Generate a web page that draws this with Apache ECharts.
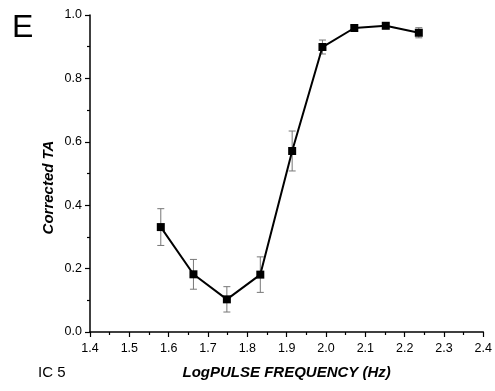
<!DOCTYPE html>
<html>
<head>
<meta charset="utf-8">
<script src="https://cdn.jsdelivr.net/npm/echarts@6/dist/echarts.min.js"></script>
<style>
html,body{margin:0;padding:0;background:#fff;}
#c{width:495px;height:391px;}
</style>
</head>
<body>
<div id="c"></div>
<script>
const logFreq = [1.580, 1.663, 1.748, 1.833, 1.914, 1.991, 2.072, 2.152, 2.236];
const correctedTA = [0.331, 0.182, 0.103, 0.181, 0.571, 0.899, 0.959, 0.966, 0.944];
const errTA = [0.058, 0.047, 0.040, 0.056, 0.063, 0.022, 0.008, 0.008, 0.016];

const points = logFreq.map((x, i) => [x, correctedTA[i]]);
const errData = logFreq.map((x, i) => [x, correctedTA[i] - errTA[i], correctedTA[i] + errTA[i]]);

const font = 'Liberation Sans, Arial, sans-serif';
const chart = echarts.init(document.getElementById('c'), null, {renderer: 'canvas'});
chart.setOption({
  animation: false,
  backgroundColor: '#fff',
  grid: {left: 90, right: 10, top: 15, bottom: 59, containLabel: false},
  graphic: [
    {type: 'text', x: 12, y: 12, style: {text: 'E', font: '32px ' + font, fill: '#000'}},
    {type: 'text', x: 38, y: 365, style: {text: 'IC 5', font: '15px ' + font, fill: '#000'}},
    {type: 'text', x: 48.5, y: 187.5, rotation: Math.PI / 2,
     style: {text: 'Corrected TA', font: 'italic bold 15px ' + font, fill: '#000', align: 'center', verticalAlign: 'middle'}}
  ],
  xAxis: {
    type: 'value', min: 1.4, max: 2.4, interval: 0.1,
    name: 'LogPULSE FREQUENCY (Hz)', nameLocation: 'middle', nameGap: 33,
    nameTextStyle: {fontFamily: font, fontSize: 15, fontWeight: 'bold', fontStyle: 'italic', color: '#000'},
    axisLine: {onZero: false, lineStyle: {color: '#000', width: 1.5}},
    axisTick: {inside: false, length: 5, lineStyle: {color: '#000', width: 1.2}},
    minorTick: {show: true, splitNumber: 2, length: 3, lineStyle: {color: '#000', width: 1.2}},
    axisLabel: {fontFamily: font, fontSize: 12.5, color: '#000', margin: 10, formatter: v => v.toFixed(1)},
    splitLine: {show: false}
  },
  yAxis: {
    type: 'value', min: 0, max: 1.0, interval: 0.2,
    axisLine: {show: true, onZero: false, lineStyle: {color: '#000', width: 1.5}},
    axisTick: {show: true, inside: false, length: 5, lineStyle: {color: '#000', width: 1.2}},
    minorTick: {show: true, splitNumber: 2, length: 3, lineStyle: {color: '#000', width: 1.2}},
    axisLabel: {fontFamily: font, fontSize: 12.5, color: '#000', margin: 8, formatter: v => v.toFixed(1)},
    splitLine: {show: false}
  },
  series: [
    {
      type: 'custom',
      data: errData,
      z: 1,
      renderItem: function (params, api) {
        const x = api.value(0);
        const lo = api.coord([x, api.value(1)]);
        const hi = api.coord([x, api.value(2)]);
        const w = 3.5;
        const st = {stroke: '#777', lineWidth: 1};
        return {
          type: 'group',
          children: [
            {type: 'line', shape: {x1: lo[0], y1: lo[1], x2: hi[0], y2: hi[1]}, style: st},
            {type: 'line', shape: {x1: lo[0] - w, y1: lo[1], x2: lo[0] + w, y2: lo[1]}, style: st},
            {type: 'line', shape: {x1: hi[0] - w, y1: hi[1], x2: hi[0] + w, y2: hi[1]}, style: st}
          ]
        };
      }
    },
    {
      type: 'line',
      data: points,
      z: 2,
      symbol: 'rect',
      symbolSize: 8,
      itemStyle: {color: '#000'},
      lineStyle: {color: '#000', width: 2}
    }
  ]
});
</script>
</body>
</html>
